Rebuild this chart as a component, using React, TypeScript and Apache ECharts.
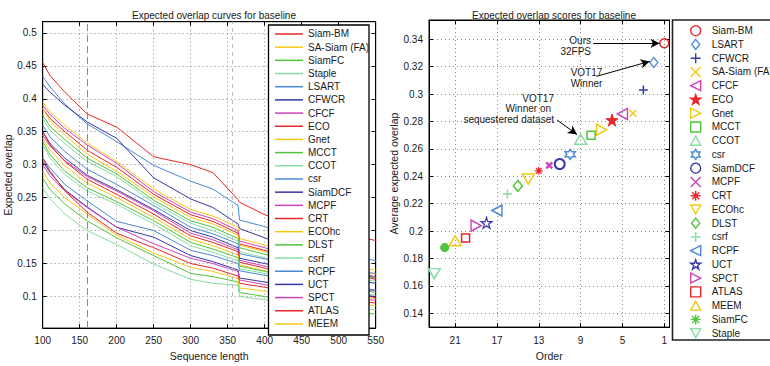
import React, { useEffect, useRef } from 'react';
import * as echarts from 'echarts';

// ---------- Left chart: expected overlap curves ----------
const SEQ_LEN = [100, 110, 130, 160, 200, 250, 300, 330, 364, 366, 400, 450, 500, 550];

const LEFT_NAMES = ['Siam-BM', 'SA-Siam (FA)', 'SiamFC', 'Staple', 'LSART', 'CFWCR', 'CFCF', 'ECO', 'Gnet', 'MCCT', 'CCOT', 'csr', 'SiamDCF', 'MCPF', 'CRT', 'ECOhc', 'DLST', 'csrf', 'RCPF', 'UCT', 'SPCT', 'ATLAS', 'MEEM'];

const C_SIAM_BM = [0.455, 0.435, 0.41, 0.377, 0.357, 0.312, 0.3, 0.288, 0.247, 0.243, 0.224, 0.208, 0.196, 0.185];
const C_SA_SIAM = [0.395, 0.38, 0.36, 0.333, 0.305, 0.263, 0.232, 0.222, 0.205, 0.188, 0.178, 0.16, 0.148, 0.14];
const C_SIAMFC = [0.28, 0.262, 0.24, 0.215, 0.189, 0.162, 0.135, 0.13, 0.122, 0.106, 0.1, 0.09, 0.081, 0.073];
const C_STAPLE = [0.265, 0.248, 0.225, 0.2, 0.179, 0.149, 0.126, 0.12, 0.117, 0.1, 0.095, 0.089, 0.084, 0.08];
const C_LSART = [0.434, 0.418, 0.392, 0.362, 0.335, 0.299, 0.275, 0.263, 0.238, 0.216, 0.206, 0.186, 0.17, 0.154];
const C_CFWCR = [0.422, 0.41, 0.39, 0.365, 0.34, 0.28, 0.248, 0.235, 0.21, 0.203, 0.189, 0.165, 0.145, 0.128];
const C_CFCF = [0.39, 0.376, 0.355, 0.33, 0.302, 0.259, 0.228, 0.218, 0.2, 0.184, 0.174, 0.156, 0.142, 0.13];
const C_ECO = [0.385, 0.37, 0.35, 0.322, 0.296, 0.255, 0.224, 0.214, 0.196, 0.18, 0.17, 0.153, 0.138, 0.126];
const C_GNET = [0.385, 0.366, 0.345, 0.316, 0.29, 0.251, 0.22, 0.21, 0.193, 0.178, 0.168, 0.152, 0.141, 0.134];
const C_MCCT = [0.375, 0.358, 0.338, 0.31, 0.286, 0.246, 0.215, 0.205, 0.188, 0.174, 0.164, 0.148, 0.137, 0.128];
const C_CCOT = [0.37, 0.352, 0.332, 0.305, 0.282, 0.242, 0.211, 0.2, 0.184, 0.168, 0.159, 0.144, 0.133, 0.123];
const C_CSR = [0.36, 0.342, 0.32, 0.293, 0.27, 0.238, 0.205, 0.195, 0.18, 0.165, 0.157, 0.148, 0.141, 0.135];
const C_SIAMDCF = [0.35, 0.332, 0.31, 0.284, 0.262, 0.232, 0.2, 0.19, 0.174, 0.158, 0.15, 0.138, 0.128, 0.12];
const C_MCPF = [0.345, 0.328, 0.306, 0.282, 0.26, 0.23, 0.196, 0.186, 0.171, 0.155, 0.146, 0.131, 0.119, 0.108];
const C_CRT = [0.35, 0.33, 0.305, 0.278, 0.255, 0.225, 0.192, 0.182, 0.168, 0.152, 0.143, 0.127, 0.112, 0.098];
const C_ECOHC = [0.34, 0.322, 0.298, 0.272, 0.25, 0.22, 0.187, 0.177, 0.163, 0.148, 0.139, 0.123, 0.109, 0.096];
const C_DLST = [0.335, 0.315, 0.29, 0.265, 0.244, 0.215, 0.182, 0.172, 0.159, 0.146, 0.138, 0.127, 0.117, 0.106];
const C_CSRF = [0.33, 0.31, 0.285, 0.26, 0.24, 0.21, 0.177, 0.167, 0.154, 0.142, 0.135, 0.122, 0.111, 0.102];
const C_RCPF = [0.31, 0.295, 0.27, 0.245, 0.214, 0.2, 0.17, 0.162, 0.15, 0.139, 0.132, 0.122, 0.116, 0.11];
const C_UCT = [0.305, 0.288, 0.262, 0.236, 0.205, 0.19, 0.162, 0.153, 0.14, 0.128, 0.122, 0.113, 0.106, 0.1];
const C_SPCT = [0.3, 0.283, 0.26, 0.235, 0.205, 0.18, 0.158, 0.15, 0.138, 0.125, 0.118, 0.108, 0.1, 0.094];
const C_ATLAS = [0.31, 0.29, 0.26, 0.228, 0.196, 0.174, 0.15, 0.143, 0.131, 0.12, 0.114, 0.104, 0.096, 0.09];
const C_MEEM = [0.29, 0.272, 0.25, 0.225, 0.193, 0.166, 0.144, 0.138, 0.127, 0.113, 0.108, 0.1, 0.093, 0.086];

const CURVES = [C_SIAM_BM, C_SA_SIAM, C_SIAMFC, C_STAPLE, C_LSART, C_CFWCR, C_CFCF, C_ECO, C_GNET, C_MCCT, C_CCOT, C_CSR, C_SIAMDCF, C_MCPF, C_CRT, C_ECOHC, C_DLST, C_CSRF, C_RCPF, C_UCT, C_SPCT, C_ATLAS, C_MEEM];

const LEFT_X_MIN = 100;
const LEFT_X_MAX = 550;
const LEFT_Y_TICKS = [0.1, 0.15, 0.2, 0.25, 0.3, 0.35, 0.4, 0.45, 0.5];
const MARK_LINES_X = [160, 356];

// ---------- Right chart: expected overlap scores ----------
const RIGHT_NAMES = ['Siam-BM', 'LSART', 'CFWCR', 'SA-Siam (FA)', 'CFCF', 'ECO', 'Gnet', 'MCCT', 'CCOT', 'csr', 'SiamDCF', 'MCPF', 'CRT', 'ECOhc', 'DLST', 'csrf', 'RCPF', 'UCT', 'SPCT', 'ATLAS', 'MEEM', 'SiamFC', 'Staple'];
const ORDER = [1, 2, 3, 4, 5, 6, 7, 8, 9, 10, 11, 12, 13, 14, 15, 16, 17, 18, 19, 20, 21, 22, 23];
const EAO = [0.337, 0.323, 0.303, 0.286, 0.2855, 0.281, 0.274, 0.27, 0.267, 0.256, 0.249, 0.248, 0.244, 0.238, 0.233, 0.227, 0.215, 0.206, 0.204, 0.195, 0.193, 0.188, 0.169];
const ORDER_TICKS = [1, 5, 9, 13, 17, 21];
const RIGHT_Y_TICKS = [0.14, 0.16, 0.18, 0.2, 0.22, 0.24, 0.26, 0.28, 0.3, 0.32, 0.34];

// annotations: [fromOrder, fromValue, toOrder, toValue]
const ARROWS = [
  [7.8, 0.337, 1.45, 0.337],
  [7.48, 0.3129, 2.4, 0.3238],
  [11.25, 0.2811, 9.35, 0.2705],
];

// ---------- styles ----------
const CYCLE = ['#e8262b', '#f6c814', '#52c43e', '#88dca4', '#4a8ad4', '#3838a8', '#cc44bb'];
const colorOf = (n: string) => CYCLE[LEFT_NAMES.indexOf(n) % 7];

const P_PLUS = 'path://M5 0 L5 10 M0 5 L10 5';
const P_X = 'path://M0 0 L10 10 M10 0 L0 10';
const P_LEFT = 'path://M0 5 L10 0 L10 10 Z';
const P_RIGHT = 'path://M10 5 L0 0 L0 10 Z';
const P_UP = 'path://M5 0 L10 9 L0 9 Z';
const P_DOWN = 'path://M0 0 L10 0 L5 9 Z';
const P_PENTA = 'path://M5 0 L6.12 3.45 L9.76 3.45 L6.82 5.59 L7.94 9.05 L5 6.91 L2.06 9.05 L3.18 5.59 L0.24 3.45 L3.88 3.45 Z';
const P_HEXA = 'path://M5 0 L6.44 2.5 L9.33 2.5 L7.89 5 L9.33 7.5 L6.44 7.5 L5 10 L3.56 7.5 L0.67 7.5 L2.11 5 L0.67 2.5 L3.56 2.5 Z';
const P_AST = 'path://M5 0 L5 10 M0 5 L10 5 M1.5 1.5 L8.5 8.5 M8.5 1.5 L1.5 8.5';
const P_DIAMOND = 'path://M4 0 L8 5 L4 10 L0 5 Z';

// per tracker (RIGHT_NAMES order): symbol, size, filled, stroke width
const MARKERS: [string, number | number[], boolean, number][] = [
  ['circle', 9, false, 1.5],
  [P_DIAMOND, [8, 10], false, 1.3],
  [P_PLUS, 9, false, 1.5],
  [P_X, 7, false, 1.5],
  [P_LEFT, [10, 11], false, 1.5],
  [P_PENTA, 12, true, 1],
  [P_RIGHT, [10, 11], false, 1.5],
  ['rect', 8, false, 1.5],
  [P_UP, [12, 10], false, 1.5],
  [P_HEXA, 10, false, 1.5],
  ['circle', 10, false, 2],
  [P_X, 6, false, 2.5],
  [P_AST, 8, false, 1.3],
  [P_DOWN, [12, 10], false, 1.5],
  [P_DIAMOND, [9, 11], false, 1.5],
  [P_PLUS, 9, false, 1.5],
  [P_LEFT, [10, 11], false, 1.5],
  [P_PENTA, 11, false, 1.2],
  [P_RIGHT, [10, 11], false, 1.5],
  ['rect', 8, false, 1.5],
  [P_UP, [12, 10], false, 1.5],
  [P_AST, 9, false, 3],
  [P_DOWN, [12, 10], false, 1.5],
];

const FONT = 'Liberation Sans, Arial, Helvetica, sans-serif';
const TXT = '#1a1a1a';

const tickStyle = { show: true, inside: true, length: 4, lineStyle: { color: '#000', width: 1 } };
const lineStyleAxis = { show: true, onZero: false, lineStyle: { color: '#000', width: 1 } };
const dotted = { show: true, lineStyle: { type: [1, 3] as any, color: '#8c8c8c', width: 1 } };

function buildOption() {
  const lineSeries = LEFT_NAMES.map((name, i) => ({
    type: 'line',
    name,
    xAxisIndex: 0,
    yAxisIndex: 0,
    symbol: 'none',
    showSymbol: false,
    lineStyle: { width: 1, color: colorOf(name) },
    itemStyle: { color: colorOf(name) },
    data: SEQ_LEN.map((x, k) => [x, CURVES[i][k]]),
    z: 2,
    markLine:
      i === 0
        ? {
            silent: true,
            symbol: ['none', 'none'],
            label: { show: false },
            data: [
              { xAxis: MARK_LINES_X[0], lineStyle: { color: '#888', type: [7, 4], width: 1 } },
              { xAxis: MARK_LINES_X[1], lineStyle: { color: '#bbb', type: [4, 4], width: 1 } },
            ],
          }
        : undefined,
  }));

  const scatterSeries = RIGHT_NAMES.map((name, i) => {
    const [sym, size, filled, bw] = MARKERS[i];
    const col = colorOf(name);
    return {
      type: 'scatter',
      name: name + '#s',
      xAxisIndex: 2,
      yAxisIndex: 2,
      symbol: sym,
      symbolSize: size,
      itemStyle: { color: filled ? col : 'rgba(255,255,255,0)', borderColor: col, borderWidth: bw, opacity: 1 },
      data: [[ORDER[i], EAO[i]]],
      z: 3,
      markLine:
        i === 0
          ? {
              silent: true,
              symbol: ['none', 'arrow'],
              symbolSize: [7, 9],
              label: { show: false },
              lineStyle: { color: '#000', width: 1, type: 'solid' },
              data: ARROWS.map((a) => [{ coord: [a[0], a[1]] }, { coord: [a[2], a[3]] }]),
            }
          : undefined,
    };
  });

  const axisLabel = { fontSize: 10, color: TXT, fontFamily: FONT };

  return {
    animation: false,
    backgroundColor: '#fff',
    textStyle: { fontFamily: FONT },
    title: [
      { text: 'Expected overlap curves for baseline', left: 209, top: 5, textAlign: 'center', textStyle: { fontSize: 10, fontWeight: 'normal', color: TXT, fontFamily: FONT } },
      { text: 'Expected overlap scores for baseline', left: 549, top: 5, textAlign: 'center', textStyle: { fontSize: 10, fontWeight: 'normal', color: TXT, fontFamily: FONT } },
    ],
    grid: [
      { left: 42.7, top: 21.7, width: 333, height: 314.3, show: true, borderColor: '#000', borderWidth: 1, backgroundColor: 'transparent' },
      { left: 429, top: 20, width: 240.5, height: 319.6, show: true, borderColor: '#000', borderWidth: 1, backgroundColor: 'transparent' },
    ],
    xAxis: [
      {
        gridIndex: 0, type: 'value', position: 'bottom', min: LEFT_X_MIN, max: LEFT_X_MAX, interval: 50,
        axisLine: lineStyleAxis, axisTick: tickStyle, axisLabel: { ...axisLabel, margin: 7 }, splitLine: dotted,
        name: 'Sequence length', nameLocation: 'middle', nameGap: 15, nameTextStyle: { fontSize: 10.5, color: TXT, fontFamily: FONT },
      },
      {
        gridIndex: 0, type: 'value', position: 'top', min: LEFT_X_MIN, max: LEFT_X_MAX, interval: 50,
        axisLine: lineStyleAxis, axisTick: tickStyle, axisLabel: { show: false }, splitLine: { show: false },
      },
      {
        gridIndex: 1, type: 'value', position: 'bottom', inverse: true, min: 0.5, max: 23.5,
        axisLine: lineStyleAxis, axisTick: { ...tickStyle, customValues: ORDER_TICKS }, axisLabel: { ...axisLabel, margin: 8, customValues: ORDER_TICKS }, splitLine: dotted,
        name: 'Order', nameLocation: 'middle', nameGap: 14, nameTextStyle: { fontSize: 10.5, color: TXT, fontFamily: FONT },
      },
      {
        gridIndex: 1, type: 'value', position: 'top', inverse: true, min: 0.5, max: 23.5,
        axisLine: lineStyleAxis, axisTick: { ...tickStyle, customValues: ORDER_TICKS }, axisLabel: { show: false }, splitLine: { show: false },
      },
    ],
    yAxis: [
      {
        gridIndex: 0, type: 'value', position: 'left', min: 0.052, max: 0.517,
        axisLine: lineStyleAxis, axisTick: { ...tickStyle, customValues: LEFT_Y_TICKS }, axisLabel: { ...axisLabel, margin: 6, customValues: LEFT_Y_TICKS }, splitLine: dotted,
        name: 'Expected overlap', nameLocation: 'middle', nameGap: 28, nameTextStyle: { fontSize: 10.5, color: TXT, fontFamily: FONT },
      },
      {
        gridIndex: 0, type: 'value', position: 'right', min: 0.052, max: 0.517,
        axisLine: lineStyleAxis, axisTick: { ...tickStyle, customValues: LEFT_Y_TICKS }, axisLabel: { show: false }, splitLine: { show: false },
      },
      {
        gridIndex: 1, type: 'value', position: 'left', min: 0.13, max: 0.354,
        axisLine: lineStyleAxis, axisTick: { ...tickStyle, customValues: RIGHT_Y_TICKS }, axisLabel: { ...axisLabel, margin: 6, customValues: RIGHT_Y_TICKS }, splitLine: dotted,
        name: 'Average expected overlap', nameLocation: 'middle', nameGap: 30, nameTextStyle: { fontSize: 10.5, color: TXT, fontFamily: FONT },
      },
      {
        gridIndex: 1, type: 'value', position: 'right', min: 0.13, max: 0.354,
        axisLine: lineStyleAxis, axisTick: { ...tickStyle, customValues: RIGHT_Y_TICKS }, axisLabel: { show: false }, splitLine: { show: false },
      },
    ],
    legend: [
      {
        data: LEFT_NAMES, orient: 'vertical', left: 275, top: 27.4, itemWidth: 28, itemHeight: 1.5, itemGap: 0, padding: 0,
        icon: 'rect', selectedMode: false, z: 20,
        textStyle: { fontSize: 10, color: TXT, lineHeight: 13.18, fontFamily: FONT },
      },
      {
        data: RIGHT_NAMES.map((n) => n + '#s'), formatter: (n: string) => n.replace('#s', ''),
        orient: 'vertical', left: 690, top: 23.8, itemWidth: 10, itemHeight: 10, itemGap: 0, padding: 0,
        selectedMode: false, z: 20,
        itemStyle: { borderWidth: 1.4 },
        textStyle: { fontSize: 10, color: TXT, lineHeight: 13.75, fontFamily: FONT, padding: [0, 0, 0, 6] },
      },
    ],
    graphic: [
      { type: 'rect', z: 10, shape: { x: 268.5, y: 25, width: 100.5, height: 310 }, style: { fill: '#fff', stroke: '#000', lineWidth: 1.3 } },
      { type: 'rect', z: 10, shape: { x: 672.5, y: 20, width: 130, height: 320 }, style: { fill: '#fff', stroke: '#222', lineWidth: 1.6 } },
      { type: 'text', z: 12, style: { text: 'Ours', x: 591, y: 40, align: 'right', verticalAlign: 'middle', font: `10px ${FONT}`, fill: TXT } },
      { type: 'text', z: 12, style: { text: '32FPS', x: 591, y: 51, align: 'right', verticalAlign: 'middle', font: `10px ${FONT}`, fill: TXT } },
      { type: 'text', z: 12, style: { text: 'VOT17', x: 586.5, y: 72, align: 'center', verticalAlign: 'middle', font: `10px ${FONT}`, fill: TXT } },
      { type: 'text', z: 12, style: { text: 'Winner', x: 586.5, y: 83.3, align: 'center', verticalAlign: 'middle', font: `10px ${FONT}`, fill: TXT } },
      { type: 'text', z: 12, style: { text: 'VOT17', x: 554, y: 98.3, align: 'right', verticalAlign: 'middle', font: `10px ${FONT}`, fill: TXT } },
      { type: 'text', z: 12, style: { text: 'Winner on', x: 551, y: 108.8, align: 'right', verticalAlign: 'middle', font: `10px ${FONT}`, fill: TXT } },
      { type: 'text', z: 12, style: { text: 'sequestered dataset', x: 554, y: 119.5, align: 'right', verticalAlign: 'middle', font: `10px ${FONT}`, fill: TXT } },
    ],
    series: [...lineSeries, ...scatterSeries],
  };
}

export default function App() {
  const ref = useRef<HTMLDivElement>(null);
  useEffect(() => {
    if (!ref.current) return;
    const chart = echarts.init(ref.current, null, { renderer: 'svg' });
    chart.setOption(buildOption() as any);
    return () => chart.dispose();
  }, []);
  return <div ref={ref} style={{ position: 'fixed', left: 0, top: 0, width: 770, height: 366, background: '#fff' }} />;
}
